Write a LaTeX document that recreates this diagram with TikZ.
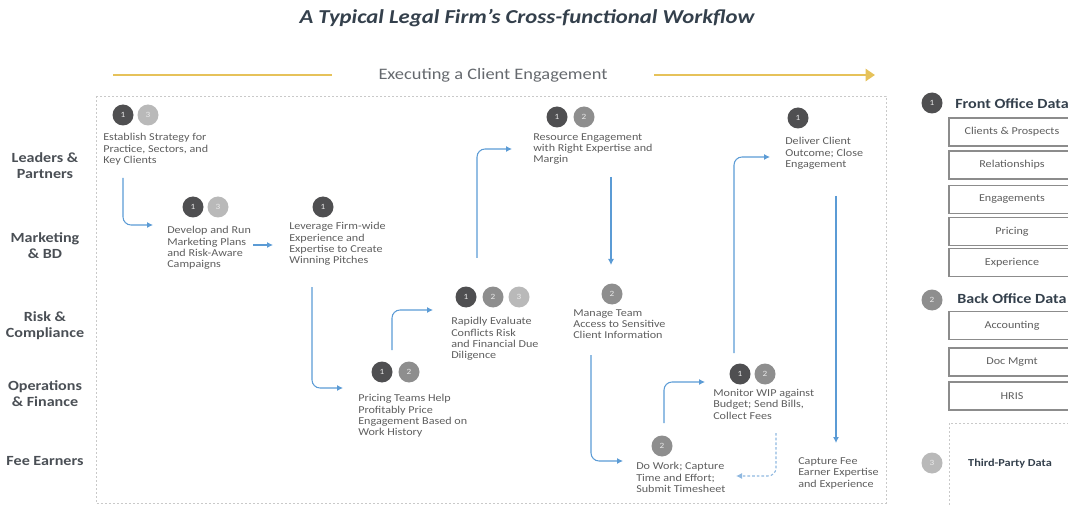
\documentclass[tikz,border=0pt]{standalone}
\usepackage{fontspec}
\setmainfont{Carlito}[FakeStretch=1.15]
\usetikzlibrary{arrows.meta,calc}

\definecolor{titleink}{HTML}{34404C}
\definecolor{laneink}{HTML}{4A4F55}
\definecolor{noteink}{HTML}{5E5E5E}
\definecolor{flowblue}{HTML}{5B9BD5}
\definecolor{flowpale}{HTML}{8FB8E0}
\definecolor{goldbar}{HTML}{E6C25A}
\definecolor{bdark}{HTML}{4F4F51}
\definecolor{bmid}{HTML}{8E8E8E}
\definecolor{blight}{HTML}{B9B9B9}
\definecolor{boxline}{HTML}{8C8C8C}
\definecolor{dotline}{HTML}{C9C9C9}

\tikzset{
  stepnote/.style={anchor=north west, inner sep=0pt, align=left, text=noteink, font=\fontsize{7.9}{8.6}\selectfont},
  lane/.style={inner sep=0pt, align=center, text=laneink, font=\fontsize{10.5}{12}\selectfont\bfseries},
  badge/.style={circle, fill=#1, draw=none, inner sep=0pt, minimum size=15.75pt, text=white!92!black, font=\fontsize{6}{6}\selectfont},
  flow/.style={draw=flowblue, line width=0.8pt, rounded corners=6pt, -{Latex[length=4.5pt,width=4.5pt]}},
  backflow/.style={draw=flowpale, line width=0.8pt, dash pattern=on 2pt off 1.5pt, rounded corners=6pt, -{Latex[length=4.5pt,width=4.5pt]}},
  databox/.style={draw=boxline, line width=1.2pt, fill=white, minimum width=94.5pt, minimum height=21pt, inner sep=0pt, text=noteink, font=\fontsize{7.9}{8.6}\selectfont},
  datahead/.style={anchor=west, inner sep=0pt, text=titleink, font=\fontsize{10.5}{12}\selectfont\bfseries},
  goldline/.style={draw=goldbar, line width=2.2pt},
  dotbox/.style={draw=dotline, line width=0.7pt, dash pattern=on 1.6pt off 1.4pt}
}

\begin{document}
\begin{tikzpicture}[x=0.75pt,y=0.75pt,yscale=-1,xscale=1]
        \useasboundingbox (0,0) rectangle (1068,506);

        % Title
        \node[text=titleink, font=\fontsize{14.8}{16}\selectfont\bfseries\itshape] (title) at (527,18) {A Typical Legal Firm’s Cross-functional Workflow};

        % Engagement banner
        \node[text=laneink!85, font=\fontsize{12}{14}\selectfont] (exec) at (493,75) {Executing a Client Engagement};
        \coordinate (gold0) at (113,75);
        \coordinate (gold1) at (875,75);
        \draw[goldline] (gold0) -- ($(exec.west)+(-42,0)$);
        \draw[goldline, -{Triangle[length=7pt,width=9pt]}] ($(exec.east)+(42,0)$) -- (gold1);

        % Workflow frame
        \draw[dotbox] (96,96) rectangle (886,503);

        % Lanes
        \node[lane] (lead) at (45,166) {Leaders \&\\Partners};
        \node[lane] (mkt) at (45,246) {Marketing\\\& BD};
        \node[lane] (risk) at (45,326) {Risk \&\\Compliance};
        \node[lane] (ops) at (45,394) {Operations\\\& Finance};
        \node[lane] (fee) at (45,461) {Fee Earners};

        % Badges
        \node[badge=bdark] (est1) at (123,115) {1};
        \node[badge=blight] (est3) at (148,115) {3};
        \node[badge=bdark] (dev1) at (193,207) {1};
        \node[badge=blight] (dev3) at (218,207) {3};
        \node[badge=bdark] (lev1) at (323,207) {1};
        \node[badge=bdark] (pri1) at (382,372) {1};
        \node[badge=bmid] (pri2) at (409,372) {2};
        \node[badge=bdark] (rap1) at (466,297) {1};
        \node[badge=bmid] (rap2) at (493,297) {2};
        \node[badge=blight] (rap3) at (519,297) {3};
        \node[badge=bdark] (res1) at (557,117) {1};
        \node[badge=bmid] (res2) at (584,117) {2};
        \node[badge=bmid] (man2) at (612,294) {2};
        \node[badge=bdark] (mon1) at (740,374) {1};
        \node[badge=bmid] (mon2) at (765,374) {2};
        \node[badge=bmid] (dow2) at (662,446) {2};
        \node[badge=bdark] (del1) at (798,118) {1};

        % Text Node
        \node[stepnote] (est) at (103,133) {Establish Strategy for\\Practice, Sectors, and\\Key Clients};
        \node[stepnote] (dev) at (167,226) {Develop and Run\\Marketing Plans\\and Risk-Aware\\Campaigns};
        \node[stepnote] (lev) at (289,222) {Leverage Firm-wide\\Experience and\\Expertise to Create\\Winning Pitches};
        \node[stepnote] (pri) at (358,394) {Pricing Teams Help\\Profitably Price\\Engagement Based on\\Work History};
        \node[stepnote] (rap) at (451,317) {Rapidly Evaluate\\Conflicts Risk\\and Financial Due\\Diligence};
        \node[stepnote] (res) at (533,133) {Resource Engagement\\with Right Expertise and\\Margin};
        \node[stepnote] (man) at (573,309) {Manage Team\\Access to Sensitive\\Client Information};
        \node[stepnote] (mon) at (713,389) {Monitor WIP against\\Budget; Send Bills,\\Collect Fees};
        \node[stepnote] (dow) at (636,462) {Do Work; Capture\\Time and Effort;\\Submit Timesheet};
        \node[stepnote] (del) at (785,137) {Deliver Client\\Outcome; Close\\Engagement};
        \node[stepnote] (cap) at (798,457) {Capture Fee\\Earner Expertise\\and Experience};

        % Flow arrows
        \draw[flow] ($(est.north west)+(20,45)$) |- ($(dev.north west)+(-14,-1)$);
        \draw[flow] ($(dev.north west)+(86,19)$) -- ($(lev.north west)+(-16,23)$);
        \draw[flow] ($(lev.north west)+(23,65)$) |- ($(pri.north west)+(-15,-6)$);
        \draw[flow] ($(pri.north west)+(34,-44)$) |- ($(rap.north west)+(-18,-7)$);
        \draw[flow] ($(rap.north west)+(26,-59)$) |- ($(res.north west)+(-21,16)$);
        \draw[flow] ($(res.north west)+(78,44)$) -- ($(man.north west)+(38,-44)$);
        \draw[flow] ($(man.north west)+(18,46)$) |- ($(dow.north west)+(-13,-1)$);
        \draw[flow] ($(dow.north west)+(28,-39)$) |- ($(mon.north west)+(-8,-7)$);
        \draw[flow] ($(mon.north west)+(21,-36)$) |- ($(del.north west)+(-15,20)$);
        \draw[flow] ($(del.north west)+(51,59)$) -- ($(cap.north west)+(38,-14)$);
        \draw[backflow] ($(mon.north west)+(63,44)$) |- ($(dow.north west)+(100,14)$);

        % Front office data
        \node[badge=bdark] (fo1) at (932,103) {1};
        \node[datahead] (fohead) at (955,104) {Front Office Data};
        \node[databox] (clients) at (1012,132) {Clients \& Prospects};
        \node[databox] (relat) at (1012,165) {Relationships};
        \node[databox] (engag) at (1012,199.5) {Engagements};
        \node[databox] (pricing) at (1012,231.5) {Pricing};
        \node[databox] (exper) at (1012,262.5) {Experience};

        % Back office data
        \node[badge=bmid] (bo2) at (932,300) {2};
        \node[datahead] (bohead) at (957,299) {Back Office Data};
        \node[databox] (acct) at (1012,325.5) {Accounting};
        \node[databox] (docm) at (1012,362) {Doc Mgmt};
        \node[databox] (hris) at (1012,396) {HRIS};

        % Third-party data
        \draw[dotbox] (949,423) rectangle (1090,530);
        \node[badge=blight] (tp3) at (932,463) {3};
        \node[text=titleink, font=\fontsize{8}{9}\selectfont\bfseries] (tphead) at (1010,464) {Third-Party Data};

\end{tikzpicture}
\end{document}
